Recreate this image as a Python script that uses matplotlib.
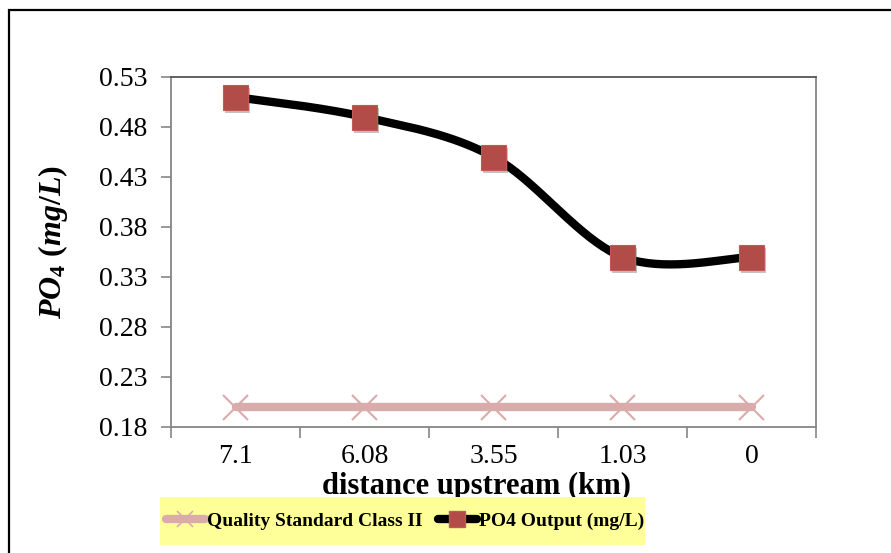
import numpy as np
import matplotlib
matplotlib.use("Agg")
import matplotlib.pyplot as plt
import matplotlib.patheffects as pe
from matplotlib.patches import Rectangle

plt.rcParams['font.family'] = ['Liberation Serif', 'DejaVu Serif']
plt.rcParams['mathtext.fontset'] = 'custom'
plt.rcParams['mathtext.it'] = 'Liberation Serif:italic:bold'
plt.rcParams['mathtext.rm'] = 'Liberation Serif:bold'
plt.rcParams['mathtext.default'] = 'it'

distances = ["7.1", "6.08", "3.55", "1.03", "0"]
po4_output = [0.51, 0.49, 0.45, 0.35, 0.35]
standard_class2 = [0.20, 0.20, 0.20, 0.20, 0.20]
y_ticks = [0.18, 0.23, 0.28, 0.33, 0.38, 0.43, 0.48, 0.53]

RED = "#B24C48"
PINK = "#D9ABAB"
GREY = "#868686"


def smooth_curve(ax, xs, ys, n=40):
    # spreadsheet-style smoothing: cubic bezier with (P[i+1]-P[i-1])/6 handles,
    # done in pixel space so the bend looks right on screen
    pts = ax.transData.transform(np.column_stack([xs, ys]))
    out = [pts[0]]
    t = np.linspace(0, 1, n)[1:, None]
    for i in range(len(pts) - 1):
        p0 = pts[max(i - 1, 0)]
        p1 = pts[i]
        p2 = pts[i + 1]
        p3 = pts[min(i + 2, len(pts) - 1)]
        c1 = p1 + (p2 - p0) / 6
        c2 = p2 - (p3 - p1) / 6
        seg = ((1 - t) ** 3) * p1 + 3 * ((1 - t) ** 2) * t * c1 \
            + 3 * (1 - t) * t ** 2 * c2 + t ** 3 * p2
        out.extend(seg)
    out = ax.transData.inverted().transform(np.array(out))
    return out[:, 0], out[:, 1]


fig = plt.figure(figsize=(8.91, 5.53), dpi=100)
ax = fig.add_axes([171 / 891, 1 - 427 / 553, 645 / 891, 350 / 553])

x = np.arange(len(distances))
ax.set_xlim(-0.5, len(distances) - 0.5)
ax.set_ylim(y_ticks[0], y_ticks[-1])

shadow = [pe.SimplePatchShadow(offset=(1.5, -2.5), shadow_rgbFace="#555555", alpha=0.35),
          pe.Normal()]

# quality standard line
ax.plot(x, standard_class2, color=PINK, lw=6, solid_capstyle="round", zorder=2)
ax.plot(x, standard_class2, ls="none", marker="x", ms=18, mew=1.5, color=PINK,
        zorder=3, path_effects=shadow)

# PO4 output, smoothed
sx, sy = smooth_curve(ax, x, po4_output)
ax.plot(sx, sy, color="black", lw=6, solid_capstyle="round", zorder=4)
ax.plot(x, po4_output, ls="none", marker="s", ms=18, color=RED, mec="#C05A55",
        mew=0.8, zorder=5, path_effects=shadow)

# axes styling
for side in ax.spines.values():
    side.set_color(GREY)
    side.set_linewidth(1.3)
ax.spines["top"].set_color("#555555")

ax.set_yticks(y_ticks)
ax.set_yticklabels([f"{v:.2f}" for v in y_ticks])
ax.tick_params(axis="y", direction="out", length=7, width=1.2, color=GREY,
               labelsize=20, pad=10)
ax.set_xticks(x)
ax.set_xticklabels(distances)
ax.set_xticks(np.arange(len(distances) + 1) - 0.5, minor=True)
ax.tick_params(axis="x", which="major", length=0, labelsize=20, pad=12)
ax.tick_params(axis="x", which="minor", direction="out", length=8, width=1.2,
               color=GREY)

ax.set_xlabel("distance upstream (km)", fontsize=22, fontweight="bold")
ax.xaxis.set_label_coords(0.474, -0.127)
ax.set_ylabel(r"$PO_4\ (mg/L)$", fontsize=23)
ax.yaxis.set_label_coords(-0.157, 0.53)

# outer chart frame
fig.patches.append(Rectangle((9 / 891, -0.05), 1.0, 1 - 10 / 553 + 0.05,
                             transform=fig.transFigure, fill=False,
                             edgecolor="black", lw=1.6))

# legend on yellow band
fig.patches.append(Rectangle((160 / 891, 1 - 545 / 553), 485 / 891, 48 / 553,
                             transform=fig.transFigure, facecolor="#FFFF99",
                             edgecolor="none", zorder=0))
h1, = ax.plot([], [], color=PINK, lw=6, marker="x", ms=12, mew=1.2,
              solid_capstyle="round")
h2, = ax.plot([], [], color="black", lw=6, marker="s", ms=12, mfc=RED,
              mec="#C05A55", solid_capstyle="round")
fig.legend([h1, h2], ["Quality Standard Class II", "PO4 Output (mg/L)"],
           loc="center", bbox_to_anchor=(405 / 891, 1 - 521 / 553),
           ncol=2, frameon=False, handlelength=2.0, handletextpad=0.1,
           columnspacing=0.8, prop={"weight": "bold", "size": 14})

fig.savefig("out.png", dpi=100)
